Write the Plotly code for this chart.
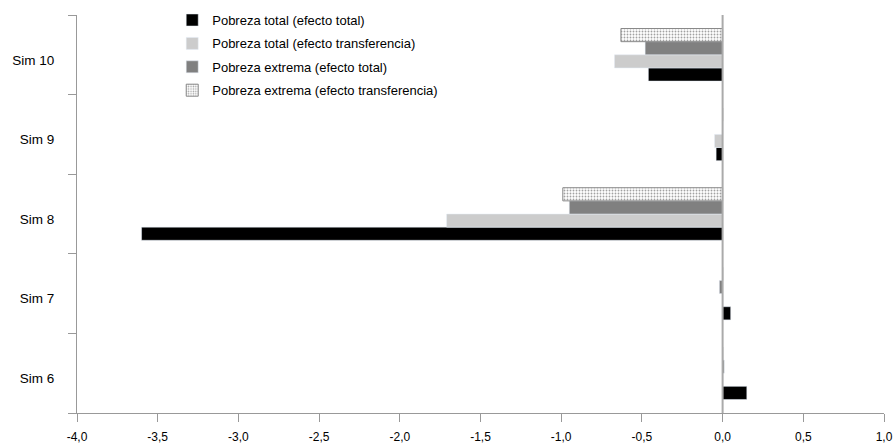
import plotly.graph_objects as go

categories = ["Sim 6", "Sim 7", "Sim 8", "Sim 9", "Sim 10"]
pt_total = [0.15, 0.05, -3.60, -0.04, -0.46]
pt_transf = [0.0, 0.0, -1.71, -0.05, -0.67]
pe_total = [0.01, -0.02, -0.95, 0.0, -0.48]
pe_transf = [0.0, 0.0, -0.99, 0.0, -0.63]
x_ticks = [-4.0, -3.5, -3.0, -2.5, -2.0, -1.5, -1.0, -0.5, 0.0, 0.5, 1.0]
x_labels = ["-4,0", "-3,5", "-3,0", "-2,5", "-2,0", "-1,5", "-1,0", "-0,5", "0,0", "0,5", "1,0"]

FONT = "Liberation Sans, Arial, sans-serif"

fig = go.Figure()
fig.add_trace(go.Bar(y=categories, x=pt_total, orientation="h", legendgroup="a",
                     name="Pobreza total (efecto total)", marker_color="#000000"))
fig.add_trace(go.Bar(y=categories, x=pt_transf, orientation="h", legendgroup="b",
                     name="Pobreza total (efecto transferencia)", marker_color="#cccccc"))
fig.add_trace(go.Bar(y=categories, x=pe_total, orientation="h", legendgroup="c",
                     name="Pobreza extrema (efecto total)", marker_color="#808080"))
fig.add_trace(go.Bar(y=categories, x=pe_transf, orientation="h", legendgroup="d",
                     name="Pobreza extrema (efecto transferencia)",
                     marker=dict(color="#ffffff",
                                 line=dict(color="#888888", width=1),
                                 pattern=dict(shape=".", fgcolor="#444444", bgcolor="#ffffff",
                                              size=3, solidity=0.3))))

fig.add_shape(type="line", x0=0, x1=0, y0=0, y1=1, xref="x", yref="paper",
              line=dict(color="#aaaaaa", width=2), layer="above")

fig.update_layout(
    width=896, height=447,
    margin=dict(l=77, r=12, t=15, b=34, autoexpand=False),
    barmode="group", bargap=0.34, bargroupgap=0,
    plot_bgcolor="white", paper_bgcolor="white",
    font=dict(family=FONT, size=13, color="#000000"),
    showlegend=True,
    legend=dict(x=0.118, y=1.025, xanchor="left", yanchor="top", traceorder="grouped",
                tracegroupgap=3.5,
                bgcolor="rgba(0,0,0,0)", font=dict(family=FONT, size=13), itemwidth=30),
)
fig.update_xaxes(range=[-4, 1], tickvals=x_ticks, ticktext=x_labels, automargin=False,
                 showgrid=False, zeroline=False, showline=True, linecolor="#999999",
                 ticks="outside", ticklen=8, tickcolor="#999999",
                 tickfont=dict(family=FONT, size=12), ticklabelstandoff=5)
fig.update_yaxes(showgrid=False, zeroline=False, showline=True, linecolor="#999999",
                 automargin=False,
                 ticks="outside", ticklen=8, tickcolor="#999999", tickson="boundaries",
                 tickfont=dict(family=FONT, size=13.5), ticklabelstandoff=19,
                 ticklabelshift=5)

fig.write_html("out.html", config={"displayModeBar": False},
               post_script="document.body.style.margin='0';")
